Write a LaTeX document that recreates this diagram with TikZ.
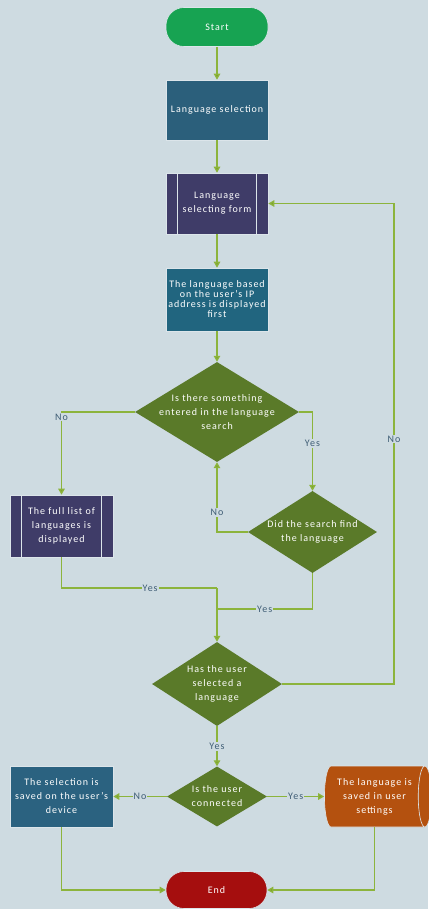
\documentclass[tikz,border=0pt]{standalone}
\usepackage{fontspec}
\setmainfont{Carlito}[LetterSpace=10]
\usetikzlibrary{arrows.meta,shapes.geometric,calc}

\definecolor{bgc}{HTML}{CEDBE1}
\definecolor{linec}{HTML}{8CB43C}
\definecolor{tipc}{HTML}{7DA22E}
\definecolor{diac}{HTML}{5A7A29}
\definecolor{startc}{HTML}{17A352}
\definecolor{selc}{HTML}{2B5F7B}
\definecolor{formc}{HTML}{3F3C68}
\definecolor{ipc}{HTML}{21657F}
\definecolor{savec}{HTML}{2B6280}
\definecolor{cylc}{HTML}{B4510F}
\definecolor{endc}{HTML}{A50E0E}
\definecolor{lblc}{HTML}{3F5D75}
\definecolor{edgec}{HTML}{DCE5EA}

\tikzset{
  base/.style={draw=edgec, line width=0.6pt, text=white, align=center,
    font=\fontsize{10}{14}\selectfont, inner sep=0pt},
  terminal/.style={base, rectangle, rounded corners=18pt},
  procbox/.style={base, rectangle, minimum width=102pt},
  predef/.style={procbox, fill=formc,
    path picture={
      \draw[edgec, line width=0.6pt]
        ([xshift=11.5pt]path picture bounding box.north west) --
        ([xshift=11.5pt]path picture bounding box.south west)
        ([xshift=-11.5pt]path picture bounding box.north east) --
        ([xshift=-11.5pt]path picture bounding box.south east);}},
  decision/.style={draw=none, fill=diac, shape=diamond, inner sep=0pt},
  dtext/.style={text=white, align=center, font=\fontsize{10}{14}\selectfont},
  conn/.style={draw=linec, line width=1.3pt},
  arr/.style={conn, -{Triangle[length=6pt,width=6.5pt,fill=tipc]}},
  lbl/.style={fill=bgc, text=lblc, font=\fontsize{10}{11}\selectfont,
    inner sep=1pt},
}

\begin{document}
\begin{tikzpicture}[x=1pt, y=-1pt]
  \useasboundingbox[fill=bgc] (0,0) rectangle (428,909);

  % top chain
  \node[terminal, fill=startc, minimum width=102pt, minimum height=39pt] (start) at (217,27) {Start};
  \node[procbox, fill=selc, minimum height=60pt] (sel) at (217,110) {Language selection};
  \node[predef, minimum height=61pt] (form) at (217,203.5) {Language\\selecting form};
  \node[procbox, fill=ipc, minimum height=63pt, font=\fontsize{10}{10}\selectfont] (ip) at (217,299.5)
    {The language based\\on the user's IP\\address is displayed\\first};

  % search decisions
  \node[decision, minimum width=164pt, minimum height=100pt] (d1) at (217,412) {};
  \node[dtext] at (d1) {Is there something\\entered in the language\\search};
  \node[decision, minimum width=129pt, minimum height=82pt] (d2) at (312.5,532) {};
  \node[dtext] at (d2) {Did the search find\\the language};
  \node[predef, minimum width=103pt, minimum height=62pt] (full) at (61.5,526)
    {The full list of\\languages is\\displayed};

  % selection decision
  \node[decision, minimum width=130pt, minimum height=84pt] (d3) at (217,684) {};
  \node[dtext] at (d3) {Has the user\\selected a\\language};

  % connection decision and results
  \node[decision, minimum width=100pt, minimum height=60pt] (d4) at (217,796.5) {};
  \node[dtext] at (d4) {Is the user\\connected};
  \node[procbox, fill=savec, minimum width=103pt, minimum height=61pt] (saved) at (61.5,796.5)
    {The selection is\\saved on the user's\\device};
  % stored data: lying cylinder, axis length set by minimum height
  \node[base, cylinder, cylinder uses custom fill, cylinder body fill=cylc,
        cylinder end fill=cylc, aspect=0.36, minimum width=61pt, minimum height=107pt]
    (cyl) at (374.5,796.5) {The language is\\saved in user\\settings};

  \node[terminal, fill=endc, minimum width=101pt, minimum height=37pt] (end) at (216.5,890) {End};

  % helper points
  \coordinate (j1) at (217,588);
  \coordinate (j2) at (217,609);
  \coordinate (r) at (394,0);

  % connectors
  \draw[arr] (start) -- (sel);
  \draw[arr] (sel) -- (form);
  \draw[arr] (form) -- (ip);
  \draw[arr] (ip) -- (d1.north);
  \draw[arr] (d1.west) -| node[lbl, pos=0.53] {No} (full.north);
  \draw[arr] (d1.east) -| node[lbl, pos=0.70] {Yes} (d2.north);
  \draw[arr] (d2.west) -| node[lbl, pos=0.64] {No} (d1.south);
  \draw[conn] (full.south) |- node[lbl, pos=0.785] {Yes} (j1);
  \draw[conn] (d2.south) |- node[lbl, pos=0.75] {Yes} (j2);
  \draw[arr] (j1) -- (d3.north);
  \draw[arr] (d3.east) -- (d3.east -| r) -- node[lbl, pos=0.51] {No} (form.east -| r) -- (form.east);
  \draw[arr] (d3.south) -- node[lbl] {Yes} (d4.north);
  \draw[arr] (d4.west) -- node[lbl] {No} (saved.east);
  \draw[arr] (d4.east) -- node[lbl] {Yes} (cyl.west);
  \draw[arr] (saved.south) |- (end.west);
  \draw[arr] (cyl.south) |- (end.east);
\end{tikzpicture}
\end{document}
